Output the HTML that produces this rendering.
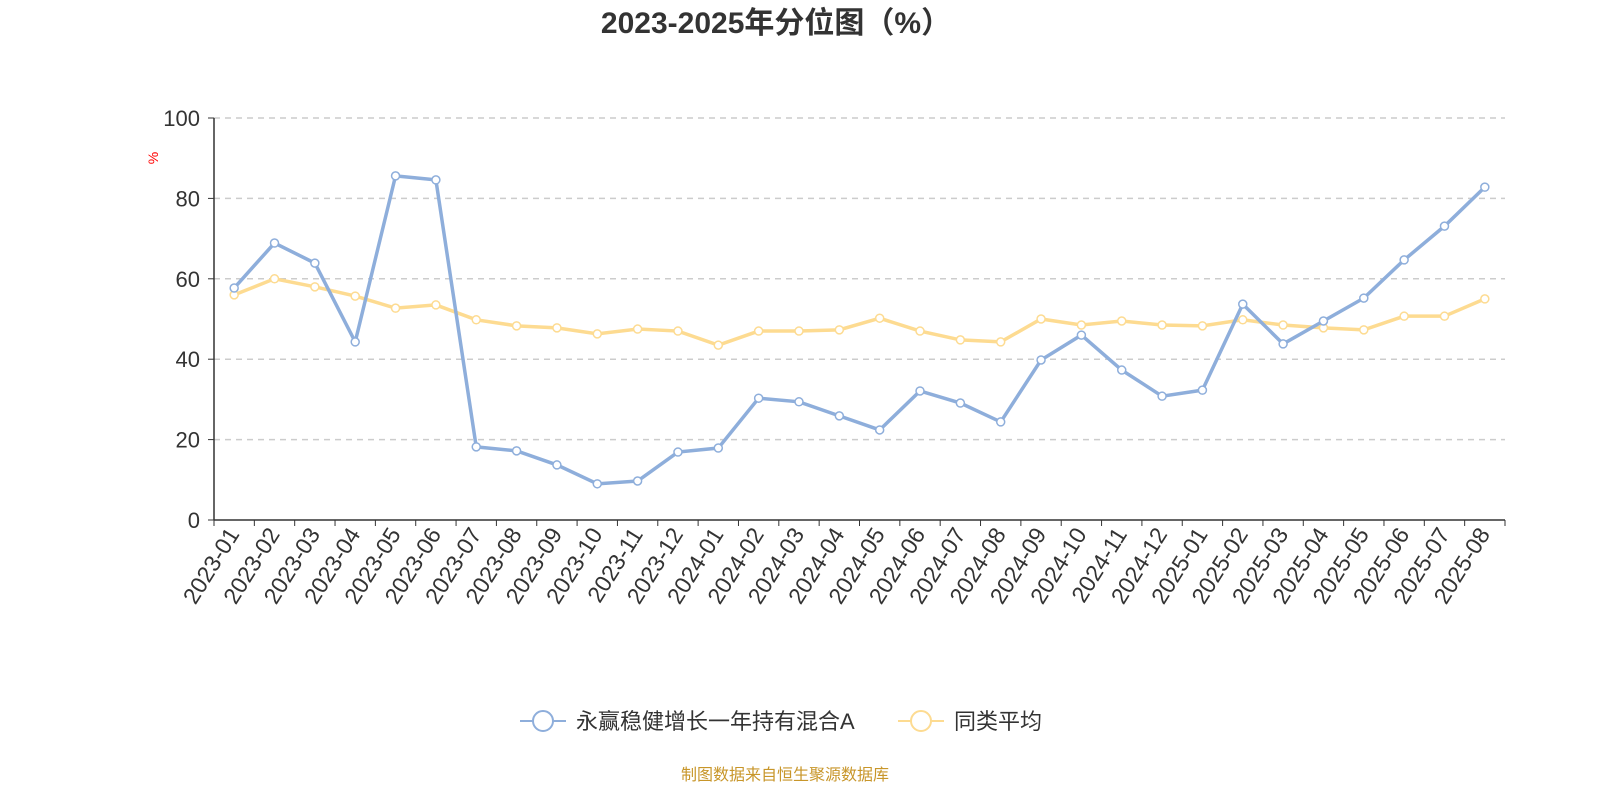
<!DOCTYPE html>
<html><head><meta charset="utf-8"><style>
body{margin:0;background:#fff;width:1600px;height:800px;overflow:hidden;font-family:"Liberation Sans","Noto Sans CJK SC",sans-serif}
</style></head><body>
<svg id="c" width="1600" height="800" style="font-family:'Liberation Sans','Noto Sans CJK SC',sans-serif">
<text x="776" y="33" text-anchor="middle" font-size="30" font-weight="bold" fill="#333">2023-2025年分位图（%）</text>
<text x="158" y="158" font-size="14" fill="red" transform="rotate(-90 158 158)" text-anchor="middle">%</text>
<g id="grid"></g><g id="axes"></g><g id="series"></g>
<g>
<g><line x1="520" y1="721" x2="566" y2="721" stroke="#8eaedb" stroke-width="2"/><circle cx="543" cy="721" r="10" fill="#fff" stroke="#8eaedb" stroke-width="2"/><text x="576" y="729" font-size="22" fill="#333">永赢稳健增长一年持有混合A</text></g>
<g><line x1="898" y1="721" x2="944" y2="721" stroke="#fddb91" stroke-width="2"/><circle cx="921" cy="721" r="10" fill="#fff" stroke="#fddb91" stroke-width="2"/><text x="954" y="729" font-size="22" fill="#333">同类平均</text></g>
</g>
<text x="785" y="780" text-anchor="middle" font-size="16" fill="#c8962a">制图数据来自恒生聚源数据库</text>
</svg>
<script>
const categories=["2023-01","2023-02","2023-03","2023-04","2023-05","2023-06","2023-07","2023-08","2023-09","2023-10","2023-11","2023-12","2024-01","2024-02","2024-03","2024-04","2024-05","2024-06","2024-07","2024-08","2024-09","2024-10","2024-11","2024-12","2025-01","2025-02","2025-03","2025-04","2025-05","2025-06","2025-07","2025-08"];
const fundValues=[57.7,68.9,63.9,44.3,85.6,84.6,18.2,17.2,13.7,9.0,9.7,16.9,17.9,30.3,29.4,25.9,22.4,32.1,29.1,24.4,39.8,46.0,37.3,30.8,32.3,53.7,43.8,49.5,55.2,64.7,73.1,82.8];
const avgValues=[56.0,60.0,58.0,55.7,52.7,53.5,49.8,48.3,47.8,46.3,47.5,47.0,43.5,47.0,47.0,47.3,50.2,47.0,44.8,44.3,50.0,48.5,49.5,48.5,48.3,49.8,48.5,47.8,47.3,50.7,50.7,55.0];
const yTicks=[0,20,40,60,80,100];
const L=214,R=1505,T=118,B=520;
const bw=(R-L)/categories.length;
const xs=i=>L+bw*(i+0.5), ys=v=>B-(v/100)*(B-T);
const NS="http://www.w3.org/2000/svg";
function mk(t,a,p){const e=document.createElementNS(NS,t);for(const k in a)e.setAttribute(k,a[k]);p.appendChild(e);return e;}
const grid=document.getElementById('grid'),axes=document.getElementById('axes'),ser=document.getElementById('series');
yTicks.forEach(v=>{
 if(v>0){const g=mk('line',{x1:L,x2:R,y1:ys(v),y2:ys(v),stroke:'#ccc','stroke-dasharray':'6,5','stroke-width':1.5},grid);
 
 }
 const t=mk('text',{x:L-14,y:ys(v)+8,'text-anchor':'end','font-size':22,fill:'#333'},axes);t.textContent=v;
 
 
 mk('line',{x1:L-6,x2:L,y1:ys(v),y2:ys(v),stroke:'#333'},axes);
});
const ya=mk('line',{x1:L,x2:L,y1:T,y2:B,stroke:'#333','stroke-width':1.5},axes);


const xa=mk('line',{x1:L,x2:R,y1:B,y2:B,stroke:'#333','stroke-width':1.5},axes);


for(let i=0;i<=categories.length;i++)mk('line',{x1:L+bw*i,x2:L+bw*i,y1:B,y2:B+6,stroke:'#333'},axes);
categories.forEach((c,i)=>{const x=xs(i)+6,y=B+14;
 const t=mk('text',{x:x,y:y,'text-anchor':'end','font-size':23,fill:'#333',transform:`rotate(-58 ${x} ${y})`},axes);t.textContent=c;
 
 });
function series(vals,color,name){
 const g=mk('g',{},ser);
 
 
 mk('polyline',{points:vals.map((v,i)=>xs(i)+','+ys(v)).join(' '),fill:'none',stroke:color,'stroke-width':3.5},g);
 vals.forEach((v,i)=>{const p=mk('circle',{cx:xs(i),cy:ys(v),r:4,fill:'#fff',stroke:color,'stroke-width':1.5},g);
 
 });
}
series(avgValues,'#fddb91','average-series');
series(fundValues,'#8eaedb','fund-series');
</script>
</body></html>
